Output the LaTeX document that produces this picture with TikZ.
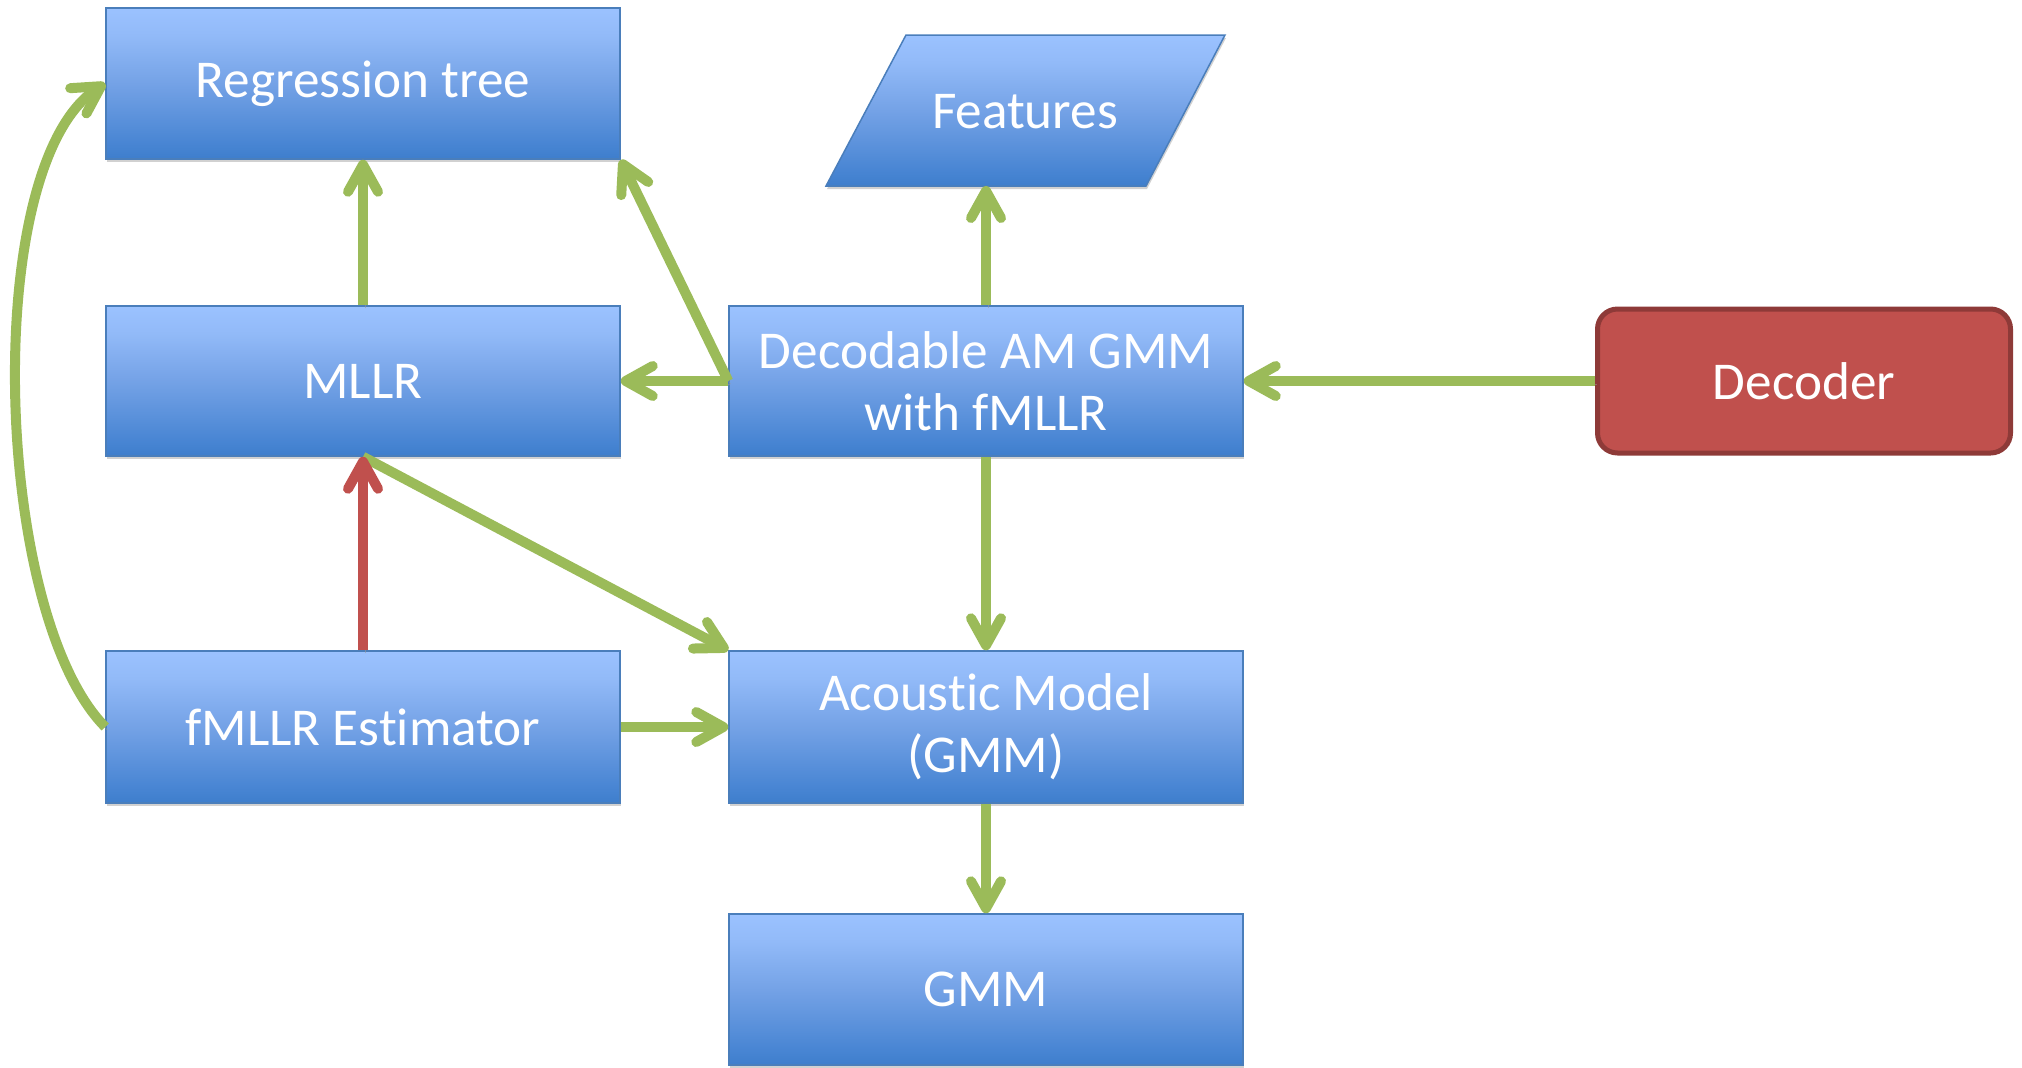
\documentclass[tikz,border=0pt]{standalone}
\usepackage{fontspec}
\setmainfont[Ligatures=NoCommon]{Carlito}
\usetikzlibrary{arrows.meta,shadows}

\definecolor{boxtop}{HTML}{9BC2FF}
\definecolor{boxmidup}{HTML}{92BAF8}
\definecolor{boxmid}{HTML}{74A2E6}
\definecolor{boxlow}{HTML}{4885D3}
\definecolor{boxbot}{HTML}{3E7ECC}
\definecolor{boxline}{HTML}{4A7EBB}
\definecolor{flowgreen}{HTML}{9BBB59}
\definecolor{flowred}{HTML}{C0504D}
\definecolor{decfill}{HTML}{C0504D}
\definecolor{decline}{HTML}{8E3A38}

% vertical fill of the blue blocks (the path is mapped to 25bp--75bp)
\pgfdeclareverticalshading{boxfill}{100bp}{%
  color(0bp)=(boxbot); color(25bp)=(boxbot); color(30bp)=(boxlow);
  color(50bp)=(boxmid); color(66bp)=(boxmidup); color(75bp)=(boxtop);
  color(100bp)=(boxtop)}

\tikzset{
  blockbox/.style={rectangle, shading=boxfill, draw=boxline, line width=0.75pt,
    minimum width=257pt, minimum height=75pt, inner sep=0pt, align=center,
    text=white, font=\fontsize{26.6}{31}\selectfont,
    drop shadow={shadow xshift=0.5pt, shadow yshift=-1.5pt, fill=black!30, opacity=0.6}},
  decoderbox/.style={rectangle, rounded corners=10pt, fill=decfill, draw=decline,
    line width=2.5pt, minimum width=206.5pt, minimum height=72pt, inner sep=0pt,
    text=white, font=\fontsize{26.6}{31}\selectfont},
  flow/.style={draw=flowgreen, line width=5pt,
    -{Straight Barb[length=13.5pt,width=15pt,line cap=round,round]},
    preaction={draw=black!40, opacity=0.55,
      transform canvas={shift={(1pt,-1.5pt)}}}},
  redflow/.style={flow, draw=flowred}
}

\begin{document}
\begin{tikzpicture}[x=0.5pt, y=-0.5pt]
\useasboundingbox (0,0) rectangle (2022,1067);

% blocks of the adaptation pipeline
\node[blockbox, minimum height=75.5pt] (rt) at (363,83.5) {Regression tree};
\node[blockbox] (mllr) at (363,381) {MLLR};
\node[blockbox, minimum height=76pt] (fm) at (363,727) {fMLLR Estimator};
\node[blockbox] (dec) at (986,381) {Decodable AM GMM\\with fMLLR};
\node[blockbox, minimum height=76pt] (am) at (986,727) {Acoustic Model\\(GMM)};
\node[blockbox, minimum height=75.5pt] (gmm) at (986,989.5) {GMM};
\node[decoderbox] (decoder) at (1804,381) {Decoder};

% input/output parallelogram for the features
\shade[shading=boxfill, draw=boxline, line width=0.75pt,
  drop shadow={shadow xshift=0.5pt, shadow yshift=-1.5pt, fill=black!30, opacity=0.6}]
  (906,35) -- (1225,35) -- (1146,186) -- (826,186) -- cycle;
\node[text=white, font=\fontsize{26.6}{31}\selectfont] (feat) at (1025,112) {Features};
\coordinate (featbot) at (986,186);

% connectors
\draw[flow] (mllr.north) -- (rt.south);
\draw[flow] (dec.west) -- (mllr.east);
\draw[flow] (dec.west) -- (rt.south east);
\draw[flow] (dec.north) -- (featbot);
\draw[flow] (decoder.west) -- (dec.east);
\draw[flow] (dec.south) -- (am.north);
\draw[flow] (mllr.south) -- (am.north west);
\draw[redflow] (fm.north) -- (mllr.south);
\draw[flow] (fm.east) -- (am.west);
\draw[flow] (am.south) -- (gmm.north);
\draw[flow] (fm.west) .. controls (-7,614) and (-20,164) .. (rt.west);
\end{tikzpicture}
\end{document}
